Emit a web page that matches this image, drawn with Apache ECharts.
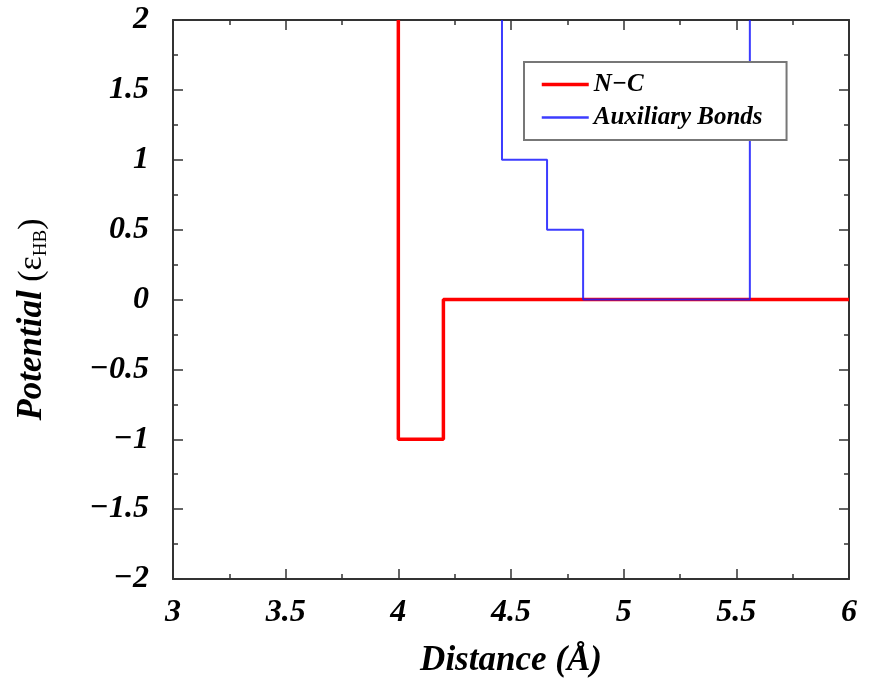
<!DOCTYPE html>
<html>
<head>
<meta charset="utf-8">
<script src="https://cdn.jsdelivr.net/npm/echarts@6/dist/echarts.min.js"></script>
<style>html,body{margin:0;padding:0;background:#fff;}#c{width:869px;height:683px;}</style>
</head>
<body>
<div id="c"></div>
<script>
// Data
const seriesNames = ['N\u2212C', 'Auxiliary Bonds'];
const redX = [4.0, 4.0, 4.2, 4.2, 6.0];
const redY = [2.0, -1.0, -1.0, 0.0, 0.0];
const blueX = [4.46, 4.46, 4.66, 4.66, 4.82, 4.82, 5.56, 5.56];
const blueY = [2.0, 1.0, 1.0, 0.5, 0.5, 0.0, 0.0, 2.0];
const xTicks = [3, 3.5, 4, 4.5, 5, 5.5, 6];
const yTicks = [-2, -1.5, -1, -0.5, 0, 0.5, 1, 1.5, 2];

const pairs = (xs, ys) => xs.map((x, i) => [x, ys[i]]);
const FONT = '"Liberation Serif", "DejaVu Serif", serif';
const axisColor = '#333';

const baseAxis = {
  axisLine: { show: true, onZero: false, lineStyle: { color: axisColor, width: 2 } },
  axisTick: { show: true, inside: true, length: 10, lineStyle: { color: axisColor, width: 1.5 } },
  minorTick: { show: true, splitNumber: 2, length: 5, lineStyle: { color: axisColor, width: 1.5 } },
  splitLine: { show: false },
  minorSplitLine: { show: false }
};
const tickLabel = {
  fontFamily: FONT, fontWeight: 'bold', fontStyle: 'italic', fontSize: 32, color: '#000',
  formatter: v => (v < 0 ? '\u2212' + Math.abs(v) : String(v))
};

const chart = echarts.init(document.getElementById('c'), null, { renderer: 'canvas' });
chart.setOption({
  animation: false,
  backgroundColor: '#fff',
  grid: { left: 173, right: 20, top: 20, bottom: 99, containLabel: false },
  xAxis: [
    Object.assign({}, baseAxis, {
      type: 'value', position: 'bottom', min: 3, max: 6, interval: 0.5,
      axisLabel: Object.assign({ margin: 18 }, tickLabel),
      name: 'Distance (\u00c5)', nameLocation: 'middle', nameGap: 64,
      nameTextStyle: { fontFamily: FONT, fontWeight: 'bold', fontStyle: 'italic', fontSize: 35, color: '#000' }
    }),
    Object.assign({}, baseAxis, {
      type: 'value', position: 'top', min: 3, max: 6, interval: 0.5,
      axisLabel: { show: false }
    })
  ],
  yAxis: [
    Object.assign({}, baseAxis, {
      type: 'value', position: 'left', min: -2, max: 2, interval: 0.5,
      axisLabel: Object.assign({ margin: 24 }, tickLabel),
      name: '{a|Potential}{b| (\u03b5}{c|HB}{b|)}', nameLocation: 'middle', nameGap: 122, nameRotate: 90,
      nameTextStyle: {
        padding: [0, 40, 0, 0],
        rich: {
          a: { fontFamily: FONT, fontWeight: 'bold', fontStyle: 'italic', fontSize: 35, color: '#000', lineHeight: 38 },
          b: { fontFamily: FONT, fontWeight: 'normal', fontStyle: 'normal', fontSize: 34, color: '#000', lineHeight: 38 },
          c: { fontFamily: FONT, fontWeight: 'normal', fontStyle: 'normal', fontSize: 19, color: '#000', lineHeight: 18, verticalAlign: 'bottom' }
        }
      }
    }),
    Object.assign({}, baseAxis, {
      type: 'value', position: 'right', min: -2, max: 2, interval: 0.5,
      axisLabel: { show: false }
    })
  ],
  legend: {
    orient: 'vertical', left: 524, top: 62,
    data: [
      { name: seriesNames[0], lineStyle: { width: 3.5, color: '#ff0000' } },
      { name: seriesNames[1], lineStyle: { width: 2.5, color: '#1a1aff' } }
    ],
    itemWidth: 47, itemHeight: 14, itemGap: 8,
    itemStyle: { opacity: 0 },
    padding: [10, 24, 10, 16],
    borderColor: '#777', borderWidth: 2, backgroundColor: '#fff',
    textStyle: { fontFamily: FONT, fontWeight: 'bold', fontStyle: 'italic', fontSize: 25, color: '#000' }
  },
  series: [
    {
      name: seriesNames[0], type: 'line', data: pairs(redX, redY),
      symbol: 'none', lineStyle: { color: '#ff0000', width: 3.5 }, itemStyle: { color: '#ff0000' },
      clip: true, z: 2
    },
    {
      name: seriesNames[1], type: 'line', data: pairs(blueX, blueY),
      symbol: 'none', lineStyle: { color: '#1a1aff', width: 2, opacity: 0.85 }, itemStyle: { color: '#1a1aff' },
      clip: true, z: 3
    }
  ]
});
</script>
</body>
</html>
